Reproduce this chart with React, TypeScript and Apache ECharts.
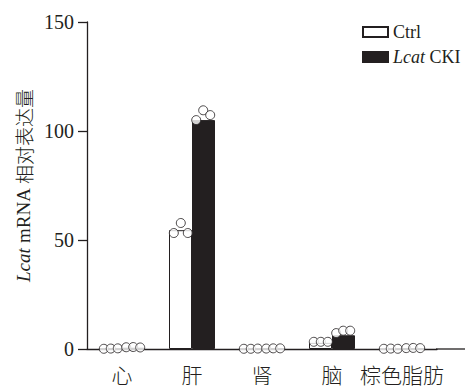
import React, { useEffect, useRef } from "react";
import * as echarts from "echarts";

const categories = ["心", "肝", "肾", "脑", "棕色脂肪"];
const ctrlMean = [0.3, 54.5, 0.2, 2.8, 0.2];
const ckiMean = [0.6, 105, 0.3, 6.3, 0.4];
const ctrlPoints = [
  [0.1, 0.2, 0.3],
  [53.2, 57.8, 53.2],
  [0.1, 0.1, 0.2],
  [3.3, 3.3, 3.3],
  [0.1, 0.2, 0.1],
];
const ckiPoints = [
  [0.8, 0.9, 0.7],
  [105, 109.5, 107.3],
  [0.2, 0.3, 0.3],
  [7.3, 8.4, 8.4],
  [0.4, 0.5, 0.4],
];
const yTicks = [0, 50, 100, 150];
const ctrlOffsets = [-0.26, -0.16, -0.06];
const ckiOffsets = [0.06, 0.16, 0.26];

const INK = "#231f20";
const SERIF = "'Liberation Serif', 'DejaVu Serif', serif";
const CJK = "'Noto Sans CJK SC', 'Liberation Serif', serif";

export default function App() {
  const ref = useRef<HTMLDivElement>(null);
  useEffect(() => {
    if (!ref.current) return;
    const chart = echarts.init(ref.current, null, { renderer: "svg" });
    const ctrlScatter: number[][] = [];
    const ckiScatter: number[][] = [];
    ctrlPoints.forEach((pts, i) =>
      pts.forEach((v, j) => ctrlScatter.push([i + ctrlOffsets[j], v]))
    );
    ckiPoints.forEach((pts, i) =>
      pts.forEach((v, j) => ckiScatter.push([i + ckiOffsets[j], v]))
    );
    chart.setOption({
      animation: false,
      backgroundColor: "#fff",
      grid: {
        left: 87,
        right: 31,
        top: 22,
        bottom: 38,
        containLabel: false,
        outerBoundsMode: "none",
      },
      legend: {
        left: 362,
        top: 23,
        padding: 0,
        orient: "vertical",
        itemWidth: 25,
        itemHeight: 10,
        itemGap: 7,
        icon: "rect",
        data: ["Ctrl", "Lcat CKI"],
        formatter: (name: string) =>
          name === "Lcat CKI" ? "{i|Lcat} CKI" : name,
        textStyle: {
          fontFamily: SERIF,
          fontSize: 18,
          color: INK,
          rich: {
            i: { fontFamily: SERIF, fontStyle: "italic", fontSize: 18, color: INK },
          },
        },
      },
      xAxis: [
        {
          type: "category",
          data: categories,
          axisLine: { lineStyle: { color: INK, width: 1.3 } },
          axisTick: { show: false },
          axisLabel: {
            interval: 0,
            fontFamily: CJK,
            fontWeight: 300,
            fontSize: 21,
            color: INK,
            margin: 14,
          },
        },
        {
          type: "value",
          min: -0.5,
          max: 4.5,
          show: false,
        },
      ],
      yAxis: {
        type: "value",
        min: 0,
        max: 150,
        interval: 50,
        name: "{i|Lcat}{s| mRNA }相对表达量",
        nameLocation: "middle",
        nameGap: 47,
        nameRotate: 90,
        nameTextStyle: {
          fontFamily: CJK,
          fontWeight: 300,
          fontSize: 19,
          color: INK,
          rich: {
            i: { fontFamily: SERIF, fontStyle: "italic", fontSize: 19, color: INK },
            s: { fontFamily: SERIF, fontSize: 19, color: INK },
          },
        },
        axisLine: { show: true, onZero: false, lineStyle: { color: INK, width: 1.3 } },
        axisTick: { show: true, length: 9, lineStyle: { color: INK, width: 1.3 } },
        axisLabel: {
          fontFamily: SERIF,
          fontSize: 20,
          color: INK,
          margin: 13,
          formatter: (v: number) => (yTicks.includes(v) ? String(v) : ""),
        },
        splitLine: { show: false },
      },
      graphic: [
        {
          type: "line",
          shape: { x1: 436, y1: 349, x2: 465, y2: 349 },
          style: { stroke: INK, lineWidth: 1.3 },
        },
      ],
      series: [
        {
          name: "Ctrl",
          type: "bar",
          data: ctrlMean,
          barWidth: 23,
          barGap: "0%",
          itemStyle: { color: "#fff", borderColor: INK, borderWidth: 1 },
        },
        {
          name: "Lcat CKI",
          type: "bar",
          data: ckiMean,
          barWidth: 23,
          barGap: "0%",
          itemStyle: { color: INK, borderColor: INK, borderWidth: 1 },
        },
        {
          name: "ctrlDots",
          type: "scatter",
          xAxisIndex: 1,
          data: ctrlScatter,
          symbol: "circle",
          symbolSize: 9,
          z: 5,
          itemStyle: { color: "#fff", borderColor: INK, borderWidth: 1 },
        },
        {
          name: "ckiDots",
          type: "scatter",
          xAxisIndex: 1,
          data: ckiScatter,
          symbol: "circle",
          symbolSize: 9,
          z: 5,
          itemStyle: { color: "#fff", borderColor: INK, borderWidth: 1 },
        },
      ],
    });
    return () => chart.dispose();
  }, []);
  return (
    <div
      ref={ref}
      style={{ position: "absolute", left: 0, top: 0, width: 468, height: 387 }}
    />
  );
}
